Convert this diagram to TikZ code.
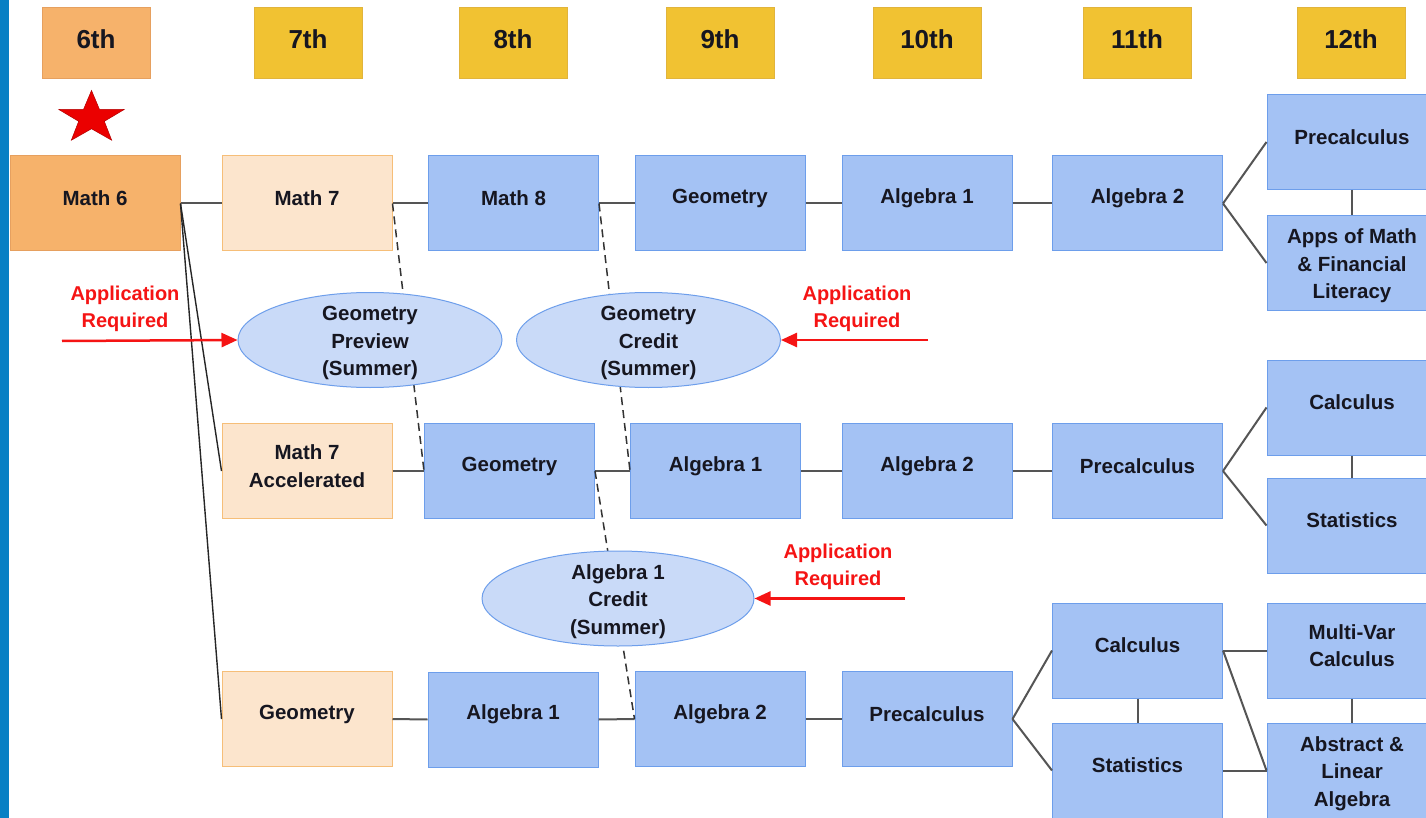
\documentclass[tikz,border=0pt]{standalone}
\usepackage{fontspec}
\setmainfont{Liberation Sans}
\usetikzlibrary{shapes.geometric,arrows.meta}
\definecolor{stripblue}{RGB}{8,128,196}
\definecolor{hdrorange}{RGB}{246,178,107}
\definecolor{hdrorangeB}{RGB}{230,160,95}
\definecolor{hdryellow}{RGB}{241,194,50}
\definecolor{hdryellowB}{RGB}{225,180,60}
\definecolor{lightorange}{RGB}{252,229,205}
\definecolor{lightorangeB}{RGB}{246,190,120}
\definecolor{boxblue}{RGB}{164,194,244}
\definecolor{boxblueB}{RGB}{109,158,235}
\definecolor{ellblue}{RGB}{201,218,248}
\definecolor{connGray}{RGB}{85,85,85}
\definecolor{txtdark}{RGB}{22,22,32}
\definecolor{appred}{RGB}{245,20,20}
\tikzset{
  lbl/.style={font=\fontsize{20.5}{27.5}\selectfont\bfseries, text=txtdark, align=center, inner sep=0pt},
  t/.style={label={[lbl,yshift=5pt]center:#1}},
  tt/.style={label={[lbl,yshift=-3pt]center:#1}},
  hdrlbl/.style={font=\fontsize{26}{30}\selectfont\bfseries, text=txtdark, inner sep=0pt},
  ht/.style={label={[hdrlbl,yshift=3pt]center:#1}},
  hdr/.style={rectangle, fill=hdryellow, draw=hdryellowB, line width=0.8pt,
    minimum width=108pt, minimum height=71pt, inner sep=0pt},
  hdrsix/.style={hdr, fill=hdrorange, draw=hdrorangeB},
  bbox/.style={rectangle, fill=boxblue, draw=boxblueB, line width=1pt,
    minimum width=170pt, minimum height=95pt, inner sep=0pt},
  obox/.style={bbox, fill=lightorange, draw=lightorangeB},
  sixbox/.style={bbox, fill=hdrorange, draw=hdrorangeB},
  ellshape/.style={ellipse, fill=ellblue, draw=boxblueB, line width=1pt,
    minimum width=264pt, minimum height=95pt, inner sep=0pt},
  elltext/.style={lbl},
  conn/.style={draw=connGray, line width=2pt},
  fan/.style={draw=black!85, line width=1.4pt},
  dashconn/.style={draw=black!80, line width=1.5pt, dash pattern=on 8pt off 5pt},
  redtxt/.style={font=\fontsize{20}{27}\selectfont\bfseries, text=appred, align=center, inner sep=0pt},
  redarrow/.style={draw=appred, line width=2.5pt, -{Triangle[length=16pt,width=14pt]}},
  starshape/.style={star, star points=5, star point ratio=2.55, fill=red!92!black, draw=red!70!black, line width=0.5pt,
    minimum size=55pt, inner sep=0pt, xscale=1.25, transform shape}
}
\begin{document}
\begin{tikzpicture}[x=1pt,y=-1pt]
\clip (0,0) rectangle (1426,818);
\fill[white] (0,0) rectangle (1426,818);
\fill[stripblue] (0,0) rectangle (9,818);

% headers
\node[hdrsix, ht=6th] (h6) at (96,42.5) {};
\node[hdr, ht=7th] (h7) at (308,42.5) {};
\node[hdr, ht=8th] (h8) at (513,42.5) {};
\node[hdr, ht=9th] (h9) at (720,42.5) {};
\node[hdr, ht=10th] (h10) at (927,42.5) {};
\node[hdr, ht=11th] (h11) at (1137,42.5) {};
\node[hdr, ht=12th] (h12) at (1351,42.5) {};

% star
\node[starshape] (star) at (91.5,118) {};

% 6th
\node[sixbox, t={Math 6}] (m6) at (95,203.5) {};
% 7th
\node[obox, t={Math 7}] (m7) at (307,203.5) {};
\node[obox, t={Math 7\\Accelerated}] (m7a) at (307,471) {};
\node[obox, t={Geometry}] (g7) at (307,719) {};
% 8th
\node[bbox, t={Math 8}] (m8) at (513.5,203.5) {};
\node[bbox, t={Geometry}] (g8) at (509.5,471) {};
\node[bbox, t={Algebra 1}] (a18) at (513,719.5) {};
% 9th
\node[bbox, t={Geometry}] (g9) at (720,203.5) {};
\node[bbox, t={Algebra 1}] (a19) at (715.5,471) {};
\node[bbox, t={Algebra 2}] (a29) at (720,719) {};
% 10th
\node[bbox, t={Algebra 1}] (a110) at (927,203.5) {};
\node[bbox, t={Algebra 2}] (a210) at (927,471) {};
\node[bbox, t={Precalculus}] (p10) at (927,719) {};
% 11th
\node[bbox, t={Algebra 2}] (a211) at (1137.5,203.5) {};
\node[bbox, t={Precalculus}] (p11) at (1137.5,471) {};
\node[bbox, t={Calculus}] (c11) at (1137.5,650.5) {};
\node[bbox, t={Statistics}] (s11) at (1137.5,770.5) {};
% 12th
\node[bbox, t={Precalculus}] (p12) at (1352,142) {};
\node[bbox, tt={Apps of Math\\\& Financial\\Literacy}] (ap12) at (1352,263) {};
\node[bbox, t={Calculus}] (c12) at (1352,407.5) {};
\node[bbox, t={Statistics}] (s12) at (1352,525.5) {};
\node[bbox, t={Multi-Var\\Calculus}] (mv12) at (1352,650.5) {};
\node[bbox, tt={Abstract \&\\Linear\\Algebra}] (al12) at (1352,770.5) {};

% fan lines from Math 6
\draw[fan] (m6.east) -- (m7a.west);
\draw[fan] (m6.east) -- (g7.west);

% solid connectors
\draw[conn] (m6.east) -- (m7.west);
\draw[conn] (m7.east) -- (m8.west);
\draw[conn] (m8.east) -- (g9.west);
\draw[conn] (g9.east) -- (a110.west);
\draw[conn] (a110.east) -- (a211.west);
\draw[conn] (a211.east) -- (p12.west);
\draw[conn] (a211.east) -- (ap12.west);
\draw[conn] (p12.south) -- (ap12.north);

\draw[conn] (m7a.east) -- (g8.west);
\draw[conn] (g8.east) -- (a19.west);
\draw[conn] (a19.east) -- (a210.west);
\draw[conn] (a210.east) -- (p11.west);
\draw[conn] (p11.east) -- (c12.west);
\draw[conn] (p11.east) -- (s12.west);
\draw[conn] (c12.south) -- (s12.north);

\draw[conn] (g7.east) -- (a18.west);
\draw[conn] (a18.east) -- (a29.west);
\draw[conn] (a29.east) -- (p10.west);
\draw[conn] (p10.east) -- (c11.west);
\draw[conn] (p10.east) -- (s11.west);
\draw[conn] (c11.south) -- (s11.north);
\draw[conn] (c11.east) -- (mv12.west);
\draw[conn] (c11.east) -- (al12.west);
\draw[conn] (s11.east) -- (al12.west);
\draw[conn] (mv12.south) -- (al12.north);

% dashed summer links
\draw[dashconn] (m7.east) -- (g8.west);
\draw[dashconn] (m8.east) -- (a19.west);
\draw[dashconn] (g8.east) -- (a29.west);

% ellipses
\node[ellshape] (gp) at (370,340) {};
\node[elltext] (gpt) at ([yshift=-3pt]gp.center) {Geometry\\Preview\\(Summer)};
\node[ellshape] (gc) at (648.5,340) {};
\node[elltext] (gct) at ([yshift=-3pt]gc.center) {Geometry\\Credit\\(Summer)};
\node[ellshape, minimum width=272pt] (ac) at (618,598.5) {};
\node[elltext] (act) at ([yshift=-3pt]ac.center) {Algebra 1\\Credit\\(Summer)};

% application required
\node[redtxt] (r1) at (125,309) {Application\\Required};
\node[redtxt] (r2) at (857,309) {Application\\Required};
\node[redtxt] (r3) at (838,566.5) {Application\\Required};
\coordinate (r1s) at (62,341);
\coordinate (r2s) at (928,340);
\coordinate (r3s) at (905,598.5);
\draw[redarrow] (r1s) -- (gp.west);
\draw[redarrow] (r2s) -- (gc.east);
\draw[redarrow] (r3s) -- (ac.east);
\end{tikzpicture}
\end{document}
